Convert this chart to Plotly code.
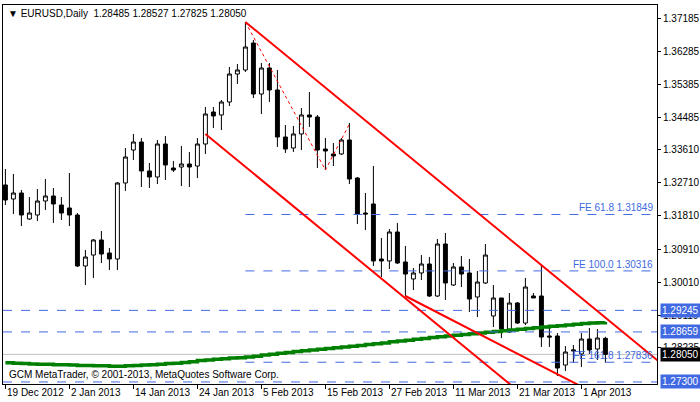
import plotly.graph_objects as go

opens = [1.32650,1.32269,1.32432,1.31726,1.31835,1.32215,1.32351,1.32106,1.32025,1.31835,
         1.30450,1.30748,1.31156,1.30803,1.30640,1.32704,1.33600,1.33817,1.33030,1.32867,
         1.33763,1.33111,1.33138,1.33220,1.33165,1.33763,1.34632,1.34551,1.34904,1.35664,
         1.35773,1.36506,1.35121,1.35827,1.35230,1.33953,1.33654,1.34035,1.34551,1.34496,
         1.33627,1.33492,1.33492,1.33872,1.32839,1.31889,1.32134,1.30640,1.30586,1.31373,
         1.30558,1.30097,1.30260,1.30504,1.29635,1.31047,1.29934,1.30423,1.30260,1.29608,
         1.29988,1.29092,1.29581,1.28657,1.29445,1.28901,1.29635,1.29635,1.28549,1.28549,
         1.27760,1.28141,1.28060,1.28467,1.28195,1.28485]
highs = [1.33084,1.32948,1.32514,1.32324,1.32541,1.32812,1.32568,1.32324,1.32975,1.31889,
         1.30884,1.31183,1.31400,1.30938,1.32731,1.33654,1.34035,1.33926,1.33247,1.33872,
         1.33980,1.33301,1.33709,1.33546,1.33926,1.34768,1.34768,1.34958,1.35854,1.35936,
         1.37076,1.36588,1.35963,1.35963,1.35773,1.34279,1.34252,1.34741,1.35175,1.34551,
         1.33926,1.33790,1.33926,1.34333,1.32867,1.32432,1.33165,1.31210,1.31454,1.31618,
         1.30993,1.30396,1.30748,1.30694,1.31183,1.31346,1.30531,1.30721,1.30640,1.30314,
         1.31047,1.29934,1.29581,1.29716,1.29472,1.30124,1.29716,1.30477,1.28793,1.28630,
         1.28277,1.28304,1.28630,1.28766,1.28738,1.28527]
lows = [1.32106,1.31862,1.31536,1.31699,1.31672,1.31971,1.31618,1.31699,1.31536,1.30423,
        1.29934,1.30124,1.30531,1.30341,1.30341,1.32487,1.33328,1.32595,1.32568,1.32677,
        1.32785,1.33002,1.32622,1.32595,1.32839,1.33492,1.34198,1.34143,1.34795,1.35393,
        1.35718,1.35012,1.34578,1.34904,1.33682,1.33519,1.33546,1.33600,1.34225,1.33111,
        1.33057,1.33165,1.33464,1.32677,1.31590,1.31427,1.30450,1.30151,1.30368,1.30504,
        1.29608,1.29798,1.30070,1.29608,1.29608,1.29526,1.29906,1.29879,1.29200,1.29064,
        1.29961,1.28793,1.28494,1.28630,1.28874,1.28847,1.29581,1.28250,1.28250,1.27462,
        1.27597,1.27815,1.27706,1.28060,1.27896,1.27825]
closes = [1.32242,1.32432,1.31835,1.31889,1.32215,1.32351,1.32134,1.31889,1.31835,1.30450,
          1.30694,1.31156,1.30775,1.30640,1.32704,1.33410,1.33817,1.33030,1.32867,1.33763,
          1.33193,1.33057,1.33220,1.33138,1.33763,1.34578,1.34524,1.34904,1.35664,1.35773,
          1.36397,1.35121,1.35827,1.35230,1.33953,1.33627,1.34035,1.34551,1.34496,1.33600,
          1.33573,1.33437,1.33872,1.32812,1.31862,1.31862,1.30586,1.30586,1.31373,1.30531,
          1.30232,1.30260,1.30504,1.29635,1.31047,1.29988,1.30423,1.30232,1.29553,1.30015,
          1.30748,1.29581,1.28738,1.29445,1.28901,1.29879,1.29581,1.28521,1.28521,1.27679,
          1.28114,1.28168,1.28467,1.28168,1.28494,1.28050]
ma = [1.2782,1.2781,1.2780,1.2779,1.2778,1.2778,1.2777,1.2777,1.2776,1.2775,1.2775,1.2774,1.2774,1.2773,
      1.2773,1.2774,1.2775,1.2776,1.2777,1.2778,1.2780,1.2781,1.2783,1.2785,1.2788,1.2790,1.2792,1.2793,1.2795,1.2796,
      1.2798,1.2800,1.2803,1.2805,1.2808,1.2810,1.2813,1.2815,1.2817,1.2819,1.2821,1.2823,1.2825,1.2827,
      1.2829,1.2832,1.2834,1.2836,1.2839,1.2841,1.2843,1.2846,1.2848,1.2851,1.2853,1.2855,
      1.2857,1.2859,1.2861,1.2863,1.2865,1.2867,1.2869,1.2871,1.2873,1.2875,1.2877,1.2879,1.2881,1.2883,
      1.2885,1.2887,1.2889,1.2890,1.2891,1.2893]
x_tick_pos = [0, 8, 16, 24, 32, 40, 48, 56, 64, 72]
x_tick_labels = ["19 Dec 2012", "2 Jan 2013", "14 Jan 2013", "24 Jan 2013", "5 Feb 2013",
                 "15 Feb 2013", "27 Feb 2013", "11 Mar 2013", "21 Mar 2013", "1 Apr 2013"]
y_ticks = [1.37185, 1.36285, 1.35385, 1.34485, 1.33610, 1.32710, 1.31810, 1.30910, 1.30010, 1.29110, 1.28235]
fe_levels = [1.31849, 1.30316, 1.27836]
fe_names = ["FE 61.8 1.31849", "FE 100.0 1.30316", "FE 161.8 1.27836"]
h_levels = [1.29245, 1.28659, 1.27300]
last_close = 1.28050
upper_line = [(30, 1.37076), (81.75, 1.27842)]
lower_line = [(25, 1.34035), (81.75, 1.23904)]
mid_line = [(50, 1.29635), (76, 1.26730)]
zigzag_x = [30, 40, 43]
zigzag_y = [1.37076, 1.33057, 1.34306]

X0, X1 = -0.3, 81.45
Y0, Y1 = 1.27245, 1.37538
idx = list(range(len(opens)))
BLUE = "#4169E1"
FONT = "Liberation Sans, Arial, sans-serif"

fig = go.Figure()
fig.add_trace(go.Candlestick(x=idx, open=opens, high=highs, low=lows, close=closes,
    increasing=dict(line=dict(color="black", width=1), fillcolor="white"),
    decreasing=dict(line=dict(color="black", width=1), fillcolor="black"),
    whiskerwidth=0, showlegend=False, hoverinfo="skip"))
fig.add_trace(go.Scatter(x=idx, y=ma, mode="lines", line=dict(color="#007F00", width=3.5, shape="hv"),
                         showlegend=False, hoverinfo="skip"))
fig.add_trace(go.Scatter(x=zigzag_x, y=zigzag_y, mode="lines", line=dict(color="red", width=1, dash="dot"),
                         showlegend=False, hoverinfo="skip"))

shapes = []
for p in fe_levels:
    shapes.append(dict(type="line", xref="x", yref="y", x0=30, x1=X1, y0=p, y1=p,
                       line=dict(color=BLUE, width=1, dash="dash")))
for p in h_levels:
    shapes.append(dict(type="line", xref="x", yref="y", x0=X0, x1=X1, y0=p, y1=p,
                       line=dict(color=BLUE, width=1, dash="dash")))
shapes.append(dict(type="line", xref="x", yref="y", x0=X0, x1=X1, y0=last_close, y1=last_close,
                   line=dict(color="#C0C0C0", width=1), layer="below"))
for ln in (upper_line, lower_line, mid_line):
    shapes.append(dict(type="line", xref="x", yref="y", x0=ln[0][0], y0=ln[0][1], x1=ln[1][0], y1=ln[1][1],
                       line=dict(color="red", width=2)))
fig.update_layout(shapes=shapes)

ann = []
for p, t in zip(fe_levels, fe_names):
    ann.append(dict(x=X1, y=p, xref="x", yref="y", text=t, showarrow=False, xanchor="right", yanchor="bottom",
                    font=dict(family=FONT, size=10, color=BLUE), xshift=-2, yshift=-1))
for p in h_levels:
    ann.append(dict(x=1, xref="paper", y=p, yref="y", text="%.5f" % p, showarrow=False, xanchor="left",
                    font=dict(family=FONT, size=10, color="white"), bgcolor=BLUE, xshift=3, borderpad=1))
ann.append(dict(x=1, xref="paper", y=last_close, yref="y", text="%.5f" % last_close, showarrow=False,
                xanchor="left", font=dict(family=FONT, size=10, color="white"), bgcolor="black", xshift=3, borderpad=1))
for xp, t in zip(x_tick_pos, x_tick_labels):
    ann.append(dict(x=xp, xref="x", y=0, yref="paper", text=t, showarrow=False, xanchor="left", yanchor="top",
                    font=dict(family=FONT, size=10, color="black"), xshift=0, yshift=-1))
ann.append(dict(x=0, xref="paper", y=1, yref="paper", text="▼ EURUSD,Daily  1.28485 1.28527 1.27825 1.28050",
                showarrow=False, xanchor="left", yanchor="top", xshift=3, yshift=-1,
                font=dict(family=FONT, size=10, color="black")))
ann.append(dict(x=0, xref="paper", y=0, yref="paper", text="GCM MetaTrader, © 2001-2013, MetaQuotes Software Corp.",
                showarrow=False, xanchor="left", yanchor="bottom", xshift=4, yshift=2,
                font=dict(family=FONT, size=10, color="black")))

fig.update_layout(
    annotations=ann, width=700, height=402, paper_bgcolor="white", plot_bgcolor="white",
    margin=dict(l=3, r=43, t=5, b=18, autoexpand=False),
    xaxis=dict(range=[X0, X1], showgrid=False, zeroline=False, rangeslider=dict(visible=False),
               tickvals=x_tick_pos, ticktext=[""] * len(x_tick_pos), ticks="outside", ticklen=4,
               tickcolor="black", showline=True, linecolor="black", mirror=True, fixedrange=True,
               automargin=False),
    yaxis=dict(range=[Y0, Y1], side="right", showgrid=False, zeroline=False, tickvals=y_ticks,
               ticktext=["%.5f" % v for v in y_ticks], ticks="outside", ticklen=3, tickcolor="black",
               tickfont=dict(family=FONT, size=10, color="black"), showline=True, linecolor="black",
               mirror=True, automargin=False),
)
fig.write_html("out.html", config={"displayModeBar": False, "staticPlot": True},
               post_script="document.body.style.margin='0';document.body.style.overflow='hidden';")
